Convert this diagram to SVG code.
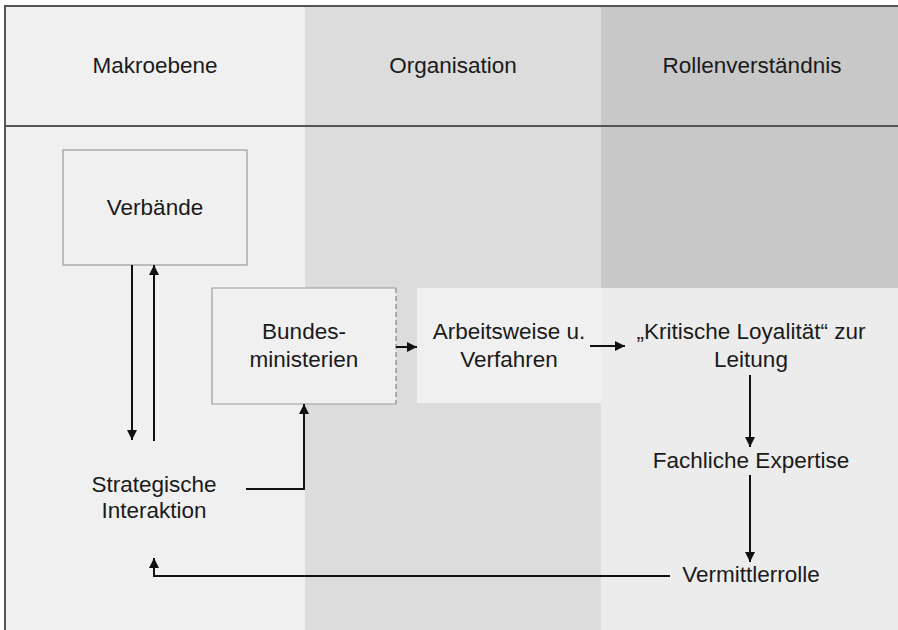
<svg xmlns="http://www.w3.org/2000/svg" width="898" height="630" viewBox="0 0 898 630">
<style>
text{font-family:"Liberation Sans",Arial,sans-serif;font-size:22.5px;fill:#1a1a1a;text-anchor:middle}
.box{fill:#f0f0f0;stroke:#9a9a9a;stroke-width:1.2}
.ln{fill:none;stroke:#111;stroke-width:2}
</style>
<defs>
<marker id="ah" viewBox="0 0 10 10" refX="10" refY="5" markerWidth="10" markerHeight="10" markerUnits="userSpaceOnUse" orient="auto">
<path d="M0,0 L10,5 L0,10 Z" fill="#111"/>
</marker>
</defs>
<rect width="898" height="630" fill="#fff"/>
<g id="background">
<rect x="5" y="6" width="300" height="624" fill="#f0f0f0"/>
<rect x="305" y="6" width="296" height="624" fill="#dcdcdc"/>
<rect x="601" y="6" width="297" height="624" fill="#c8c8c8"/>
<rect x="601" y="288" width="297" height="342" fill="#ececec"/>
<line x1="5" y1="6" x2="898" y2="6" stroke="#555" stroke-width="2"/>
<line x1="5" y1="5" x2="5" y2="630" stroke="#555" stroke-width="2"/>
<line x1="5" y1="126" x2="898" y2="126" stroke="#555" stroke-width="2"/>
</g>
<g id="headers">
<text x="155" y="73">Makroebene</text>
<text x="453" y="73">Organisation</text>
<text x="752" y="73">Rollenverständnis</text>
</g>
<g id="verbaende">
<rect class="box" x="63" y="150" width="184" height="115"/>
<text x="155" y="215">Verbände</text>
</g>
<g id="bundesministerien">
<rect x="212" y="288" width="184" height="116" fill="#f0f0f0"/>
<path d="M396,288 H212 V404 H396" fill="none" stroke="#9a9a9a" stroke-width="1.2"/>
<line x1="396" y1="288" x2="396" y2="404" stroke="#888" stroke-width="1.2" stroke-dasharray="5,3"/>
<text x="304" y="339">Bundes-</text>
<text x="304" y="367">ministerien</text>
</g>
<g id="arbeitsweise">
<rect x="417" y="288" width="184" height="115" fill="#f0f0f0"/>
<text x="509" y="339">Arbeitsweise u.</text>
<text x="509" y="367">Verfahren</text>
</g>
<g id="loyalitaet">
<text x="751" y="339">„Kritische Loyalität“ zur</text>
<text x="751" y="367">Leitung</text>
</g>
<g id="expertise">
<text x="751" y="468">Fachliche Expertise</text>
</g>
<g id="vermittlerrolle">
<text x="751" y="582">Vermittlerrolle</text>
</g>
<g id="strategische">
<text x="154" y="492">Strategische</text>
<text x="154" y="518">Interaktion</text>
</g>
<g id="connectors">
<line class="ln" x1="132" y1="265" x2="132" y2="440" marker-end="url(#ah)"/>
<line class="ln" x1="154" y1="441" x2="154" y2="265" marker-end="url(#ah)"/>
<polyline class="ln" points="246,489 304,489 304,404" marker-end="url(#ah)"/>
<line class="ln" x1="396" y1="347" x2="417" y2="347" marker-end="url(#ah)"/>
<line class="ln" x1="590" y1="346" x2="625" y2="346" marker-end="url(#ah)"/>
<line class="ln" x1="750" y1="375" x2="750" y2="447" marker-end="url(#ah)"/>
<line class="ln" x1="750" y1="475" x2="750" y2="562" marker-end="url(#ah)"/>
<polyline class="ln" points="670,576 154,576 154,558" marker-end="url(#ah)"/>
</g>
</svg>
